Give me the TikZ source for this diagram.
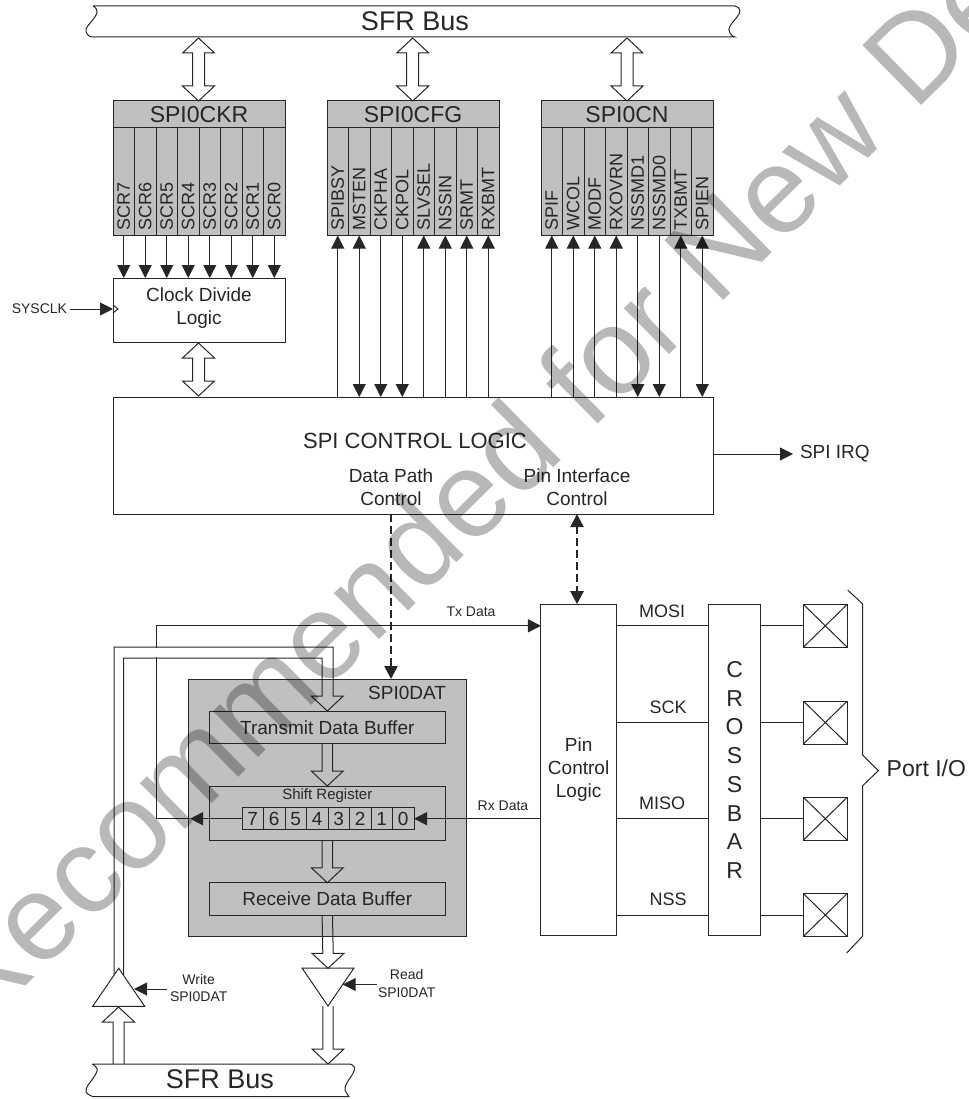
\documentclass[tikz,border=0pt]{standalone}
\usepackage{fontspec}
\setmainfont{Liberation Sans}
\usepackage{tikz}
\usetikzlibrary{arrows.meta,positioning,shapes.geometric,calc}
% hollow bus arrows, always vertical
\newcommand{\busboth}[2]{\draw (#1) -- ++(16,15) -- ++(-10,0) -- ($(#2)+(6,-15)$) -- ++(10,0) -- (#2) -- ++(-16,-15) -- ++(10,0) -- ($(#1)+(-6,15)$) -- ++(-10,0) -- cycle;}
\newcommand{\busdown}[2]{\draw ($(#1)+(-5.2,0)$) -- ($(#2)+(-5.2,-15)$) -- ++(-10.8,0) -- (#2) -- ++(16,-15) -- ++(-10.8,0) -- ($(#1)+(5.2,0)$);}
\newcommand{\busup}[2]{\draw ($(#1)+(-5.5,0)$) -- ($(#2)+(-5.5,15)$) -- ++(-10.5,0) -- (#2) -- ++(16,15) -- ++(-10.5,0) -- ($(#1)+(5.5,0)$);}

\begin{document}
\begin{tikzpicture}[
  x=1pt, y=-1pt, color=black!85, line width=1pt,
  every node/.style={inner sep=0pt, outer sep=0pt},
  txt/.style={font=\fontsize{19}{23}\selectfont, align=center},
  small/.style={font=\fontsize{14}{17.5}\selectfont, align=center},
  big/.style={font=\fontsize{27}{30}\selectfont},
  reghead/.style={draw, fill=regfill, minimum width=172pt, minimum height=27pt, font=\fontsize{23}{26}\selectfont},
  cell/.style={draw, fill=regfill, minimum width=21.5pt, minimum height=107.5pt},
  celltext/.style={rotate=90, anchor=west, inner sep=5pt, font=\fontsize{18}{20}\selectfont},
  box/.style={draw, align=center, font=\fontsize{19}{23}\selectfont},
  bit/.style={draw, minimum width=21.5pt, minimum height=22pt, font=\fontsize{19}{22}\selectfont},
  pinbox/.style={draw, minimum width=44pt, minimum height=43pt,
    path picture={\draw (path picture bounding box.north west) -- (path picture bounding box.south east) (path picture bounding box.north east) -- (path picture bounding box.south west);}},
  tristate/.style={draw, isosceles triangle, isosceles triangle stretches, minimum width=52pt, minimum height=38pt},
  arr/.style={-{Triangle[length=13pt,width=13pt]}},
  bothway/.style={{Triangle[length=13pt,width=13pt]}-{Triangle[length=13pt,width=13pt]}},
  dasharr/.style={arr, dash pattern=on 8pt off 4pt, line width=2.5pt}
]
\definecolor{regfill}{RGB}{192,192,192}
\useasboundingbox (0,0) rectangle (968,1099);

% top bus
\draw (93,6) -- (735,6) .. controls (741,7) and (741,13) .. (737,17) .. controls (733,22) and (726,29) .. (730,33) .. controls (731,35) and (733,37) .. (735,37) -- (92,37) .. controls (89,37) and (85,33) .. (86,29) .. controls (88,24) and (95,19) .. (97,13) .. controls (98,10) and (96,8) .. (93,6);
\node[big] (sfrtop) at (415,21) {SFR Bus};

% registers
\node[reghead] (ckrhead) at (199,114.5) {SPI0CKR};
\node[reghead] (cfghead) at (413,114.5) {SPI0CFG};
\node[reghead] (cnhead) at (627,114.5) {SPI0CN};

\node[cell, anchor=north west, label={[celltext]south:SCR7}] (scr7) at (ckrhead.south west) {};
\node[cell, right=0pt of scr7, label={[celltext]south:SCR6}] (scr6) {};
\node[cell, right=0pt of scr6, label={[celltext]south:SCR5}] (scr5) {};
\node[cell, right=0pt of scr5, label={[celltext]south:SCR4}] (scr4) {};
\node[cell, right=0pt of scr4, label={[celltext]south:SCR3}] (scr3) {};
\node[cell, right=0pt of scr3, label={[celltext]south:SCR2}] (scr2) {};
\node[cell, right=0pt of scr2, label={[celltext]south:SCR1}] (scr1) {};
\node[cell, right=0pt of scr1, label={[celltext]south:SCR0}] (scr0) {};

\node[cell, anchor=north west, label={[celltext]south:SPIBSY}] (spibsy) at (cfghead.south west) {};
\node[cell, right=0pt of spibsy, label={[celltext]south:MSTEN}] (msten) {};
\node[cell, right=0pt of msten, label={[celltext]south:CKPHA}] (ckpha) {};
\node[cell, right=0pt of ckpha, label={[celltext]south:CKPOL}] (ckpol) {};
\node[cell, right=0pt of ckpol, label={[celltext]south:SLVSEL}] (slvsel) {};
\node[cell, right=0pt of slvsel, label={[celltext]south:NSSIN}] (nssin) {};
\node[cell, right=0pt of nssin, label={[celltext]south:SRMT}] (srmt) {};
\node[cell, right=0pt of srmt, label={[celltext]south:RXBMT}] (rxbmt) {};

\node[cell, anchor=north west, label={[celltext]south:SPIF}] (spif) at (cnhead.south west) {};
\node[cell, right=0pt of spif, label={[celltext]south:WCOL}] (wcol) {};
\node[cell, right=0pt of wcol, label={[celltext]south:MODF}] (modf) {};
\node[cell, right=0pt of modf, label={[celltext]south:RXOVRN}] (rxovrn) {};
\node[cell, right=0pt of rxovrn, label={[celltext]south:NSSMD1}] (nssmd1) {};
\node[cell, right=0pt of nssmd1, label={[celltext]south:NSSMD0}] (nssmd0) {};
\node[cell, right=0pt of nssmd0, label={[celltext]south:TXBMT}] (txbmt) {};
\node[cell, right=0pt of txbmt, label={[celltext]south:SPIEN}] (spien) {};

% logic blocks
\node[box, minimum width=172pt, minimum height=64pt, below=42.5pt of ckrhead.south |- scr7.south] (clkdiv) {};
\node[txt] (clktext) at (199,308.5) {Clock Divide\\Logic};
\node[draw, minimum width=600pt, minimum height=117pt] (ctrl) at (413,455.5) {};
\node[font=\fontsize{22}{26}\selectfont] (ctrltext) at (415,441) {SPI CONTROL LOGIC};
\node[txt] (datapath) at (391,487) {Data Path\\Control};
\node[txt] (pinif) at (577,487) {Pin Interface\\Control};
\node[small, anchor=east] (sysclk) at (67,309) {SYSCLK};
\node[txt, anchor=west] (irq) at (800,454) {SPI IRQ};

% data registers
\node[draw, fill=regfill, minimum width=278pt, minimum height=257pt] (spidat) at (327,807.5) {};
\node[txt, anchor=north east] (spidatname) at (446,686) {SPI0DAT};
\node[box, minimum width=236.5pt, minimum height=32.5pt] (txbuf) at (327.3,727.5) {Transmit Data Buffer};
\node[draw, minimum width=236.5pt, minimum height=54pt] (shiftreg) at (327.3,813) {};
\node[font=\fontsize{15}{18}\selectfont] (shifttext) at (327.3,796) {Shift Register};
\node[box, minimum width=236.5pt, minimum height=32.5pt] (rxbuf) at (327.3,899) {Receive Data Buffer};
\node[bit, anchor=west] (bit7) at (242,818.7) {7};
\node[bit, right=0pt of bit7] (bit6) {6};
\node[bit, right=0pt of bit6] (bit5) {5};
\node[bit, right=0pt of bit5] (bit4) {4};
\node[bit, right=0pt of bit4] (bit3) {3};
\node[bit, right=0pt of bit3] (bit2) {2};
\node[bit, right=0pt of bit2] (bit1) {1};
\node[bit, right=0pt of bit1] (bit0) {0};

% pin side
\node[draw, minimum width=75.3pt, minimum height=331.7pt, txt] (pinctrl) at (578.6,770) {Pin\\Control\\Logic};
\node[draw, minimum width=52.7pt, minimum height=331.7pt, align=center, font=\fontsize{23}{28.7}\selectfont] (xbar) at (734.6,770) {C\\R\\O\\S\\S\\B\\A\\R};
\node[pinbox] (port1) at (825.3,625.8) {};
\node[pinbox] (port2) at (825.3,722.5) {};
\node[pinbox] (port3) at (825.3,818.7) {};
\node[pinbox] (port4) at (825.3,915) {};
\node[font=\fontsize{18}{20}\selectfont] (mosi) at (662,611) {MOSI};
\node[font=\fontsize{18}{20}\selectfont] (sck) at (668,707) {SCK};
\node[font=\fontsize{18}{20}\selectfont] (miso) at (662,803) {MISO};
\node[font=\fontsize{18}{20}\selectfont] (nss) at (668,899) {NSS};
\node[font=\fontsize{23}{26}\selectfont, anchor=west] (portio) at (886.7,768) {Port I/O};
\draw (847.7,590) -- (862.7,604) -- (862.7,755) -- (878.3,770.7) -- (862.7,785.7) -- (862.7,936) -- (846.7,953);
\node[small] (txdata) at (471,612) {Tx Data};
\node[small] (rxdata) at (503,806) {Rx Data};

% lower bus
\node[tristate, shape border rotate=90, anchor=apex] (wrbuf) at (118.7,968.3) {};
\node[tristate, shape border rotate=270, anchor=apex] (rdbuf) at (328,1006) {};
\node[small] (wrtext) at (198.7,988) {Write\\SPI0DAT};
\node[small] (rdtext) at (406.7,983.5) {Read\\SPI0DAT};
\draw (92.3,1064) -- (350,1064) .. controls (353,1065) and (356,1067) .. (354,1071) .. controls (352,1077) and (344,1084) .. (345,1090) .. controls (346,1093) and (348,1095) .. (349,1096.7) -- (93,1096.7) .. controls (89,1095) and (85,1093) .. (86,1090) .. controls (87,1084) and (95,1078) .. (97,1071) .. controls (98,1068) and (95,1066) .. (92.3,1064);
\node[big] (sfrbot) at (220,1079) {SFR Bus};

\coordinate (ckrtop) at (198.5,38); \coordinate (ckrbot) at (198.5,101);
\coordinate (cfgtop) at (412.7,38); \coordinate (cfgbot) at (412.7,101);
\coordinate (cntop) at (627,38); \coordinate (cnbot) at (627,101);
\coordinate (clktop) at (198.5,343); \coordinate (clkbot) at (198.5,396);
\busboth{ckrtop}{ckrbot}
\busboth{cfgtop}{cfgbot}
\busboth{cntop}{cnbot}
\busboth{clktop}{clkbot}

\draw[arr] (scr7) -- (scr7 |- clkdiv.north);
\draw[arr] (scr6) -- (scr6 |- clkdiv.north);
\draw[arr] (scr5) -- (scr5 |- clkdiv.north);
\draw[arr] (scr4) -- (scr4 |- clkdiv.north);
\draw[arr] (scr3) -- (scr3 |- clkdiv.north);
\draw[arr] (scr2) -- (scr2 |- clkdiv.north);
\draw[arr] (scr1) -- (scr1 |- clkdiv.north);
\draw[arr] (scr0) -- (scr0 |- clkdiv.north);

\draw[arr] (spibsy |- ctrl.north) -- (spibsy);
\draw[bothway] (msten |- ctrl.north) -- (msten);
\draw[arr] (ckpha) -- (ckpha |- ctrl.north);
\draw[arr] (ckpol) -- (ckpol |- ctrl.north);
\draw[arr] (slvsel |- ctrl.north) -- (slvsel);
\draw[arr] (nssin |- ctrl.north) -- (nssin);
\draw[arr] (srmt |- ctrl.north) -- (srmt);
\draw[arr] (rxbmt |- ctrl.north) -- (rxbmt);

\draw[arr] (spif |- ctrl.north) -- (spif);
\draw[arr] (wcol |- ctrl.north) -- (wcol);
\draw[arr] (modf |- ctrl.north) -- (modf);
\draw[arr] (rxovrn |- ctrl.north) -- (rxovrn);
\draw[arr] (nssmd1) -- (nssmd1 |- ctrl.north);
\draw[arr] (nssmd0) -- (nssmd0 |- ctrl.north);
\draw[arr] (txbmt |- ctrl.north) -- (txbmt);
\draw[bothway] (spien |- ctrl.north) -- (spien);

\draw[arr] (sysclk.east) ++(3,0) -- (clkdiv.west |- sysclk);
\draw (clkdiv.west |- 0,305) -- (118,309) -- (clkdiv.west |- 0,313);
\draw[arr] (ctrl.east |- irq) -- (793,454);

\draw[dasharr] (datapath.south |- ctrl.south) -- (datapath.south |- spidat.north);
\draw[dasharr, bothway] (pinif.south |- ctrl.south) -- (pinif.south |- pinctrl.north);

% tx loop
\coordinate (txtip) at (190,818.7);
\coordinate (txcorner) at (156.3,818.7);
\coordinate (txtop) at (156.3,625.8);
\draw[arr] (bit7) -- (txtip);
\draw[arr] (txtip) -- (txcorner) -- (txtop) -- (txtop -| pinctrl.west);
\draw[arr] (pinctrl.west |- bit0) -- (bit0);

% write path
\fill[white] (154,648) rectangle (159,657);
\coordinate (wrout) at (114,975);
\coordinate (wrin) at (123.7,975);
\coordinate (intip) at (327.3,711);
\draw (wrout) -- (114,647) -- (333,647) -- (333,696) -- (343.3,696) -- (intip) -- (311.3,696) -- (322,696) -- (322,658) -- (123.7,658) -- (wrin);
\busdown{txbuf.south}{shiftreg.north}
\busdown{shiftreg.south}{rxbuf.north}
\busdown{rxbuf.south}{rdbuf.north |- 0,968.3}
\coordinate (rdtip) at (328,1064);
\busdown{rdbuf.apex}{rdtip}
\coordinate (wrtip) at (118.5,1007);
\coordinate (wrfoot) at (118.5,1064);
\busup{wrfoot}{wrtip}

\coordinate (wrgate) at (134,989);
\coordinate (rdgate) at (342.7,984.5);
\draw[arr] (wrgate -| 167.3,0) -- (wrgate);
\draw[arr] (rdgate -| 376.7,0) -- (rdgate);

\draw (pinctrl.east |- port1) -- (xbar.west |- port1);
\draw (pinctrl.east |- port2) -- (xbar.west |- port2);
\draw (pinctrl.east |- port3) -- (xbar.west |- port3);
\draw (pinctrl.east |- port4) -- (xbar.west |- port4);
\draw (xbar.east |- port1) -- (port1);
\draw (xbar.east |- port2) -- (port2);
\draw (xbar.east |- port3) -- (port3);
\draw (xbar.east |- port4) -- (port4);

% watermark
\node[font=\fontsize{122}{122}\selectfont, text=black, text opacity=.28, rotate=44.5] (stamp) at (471,488) {Recommended for New De};
\end{tikzpicture}
\end{document}
